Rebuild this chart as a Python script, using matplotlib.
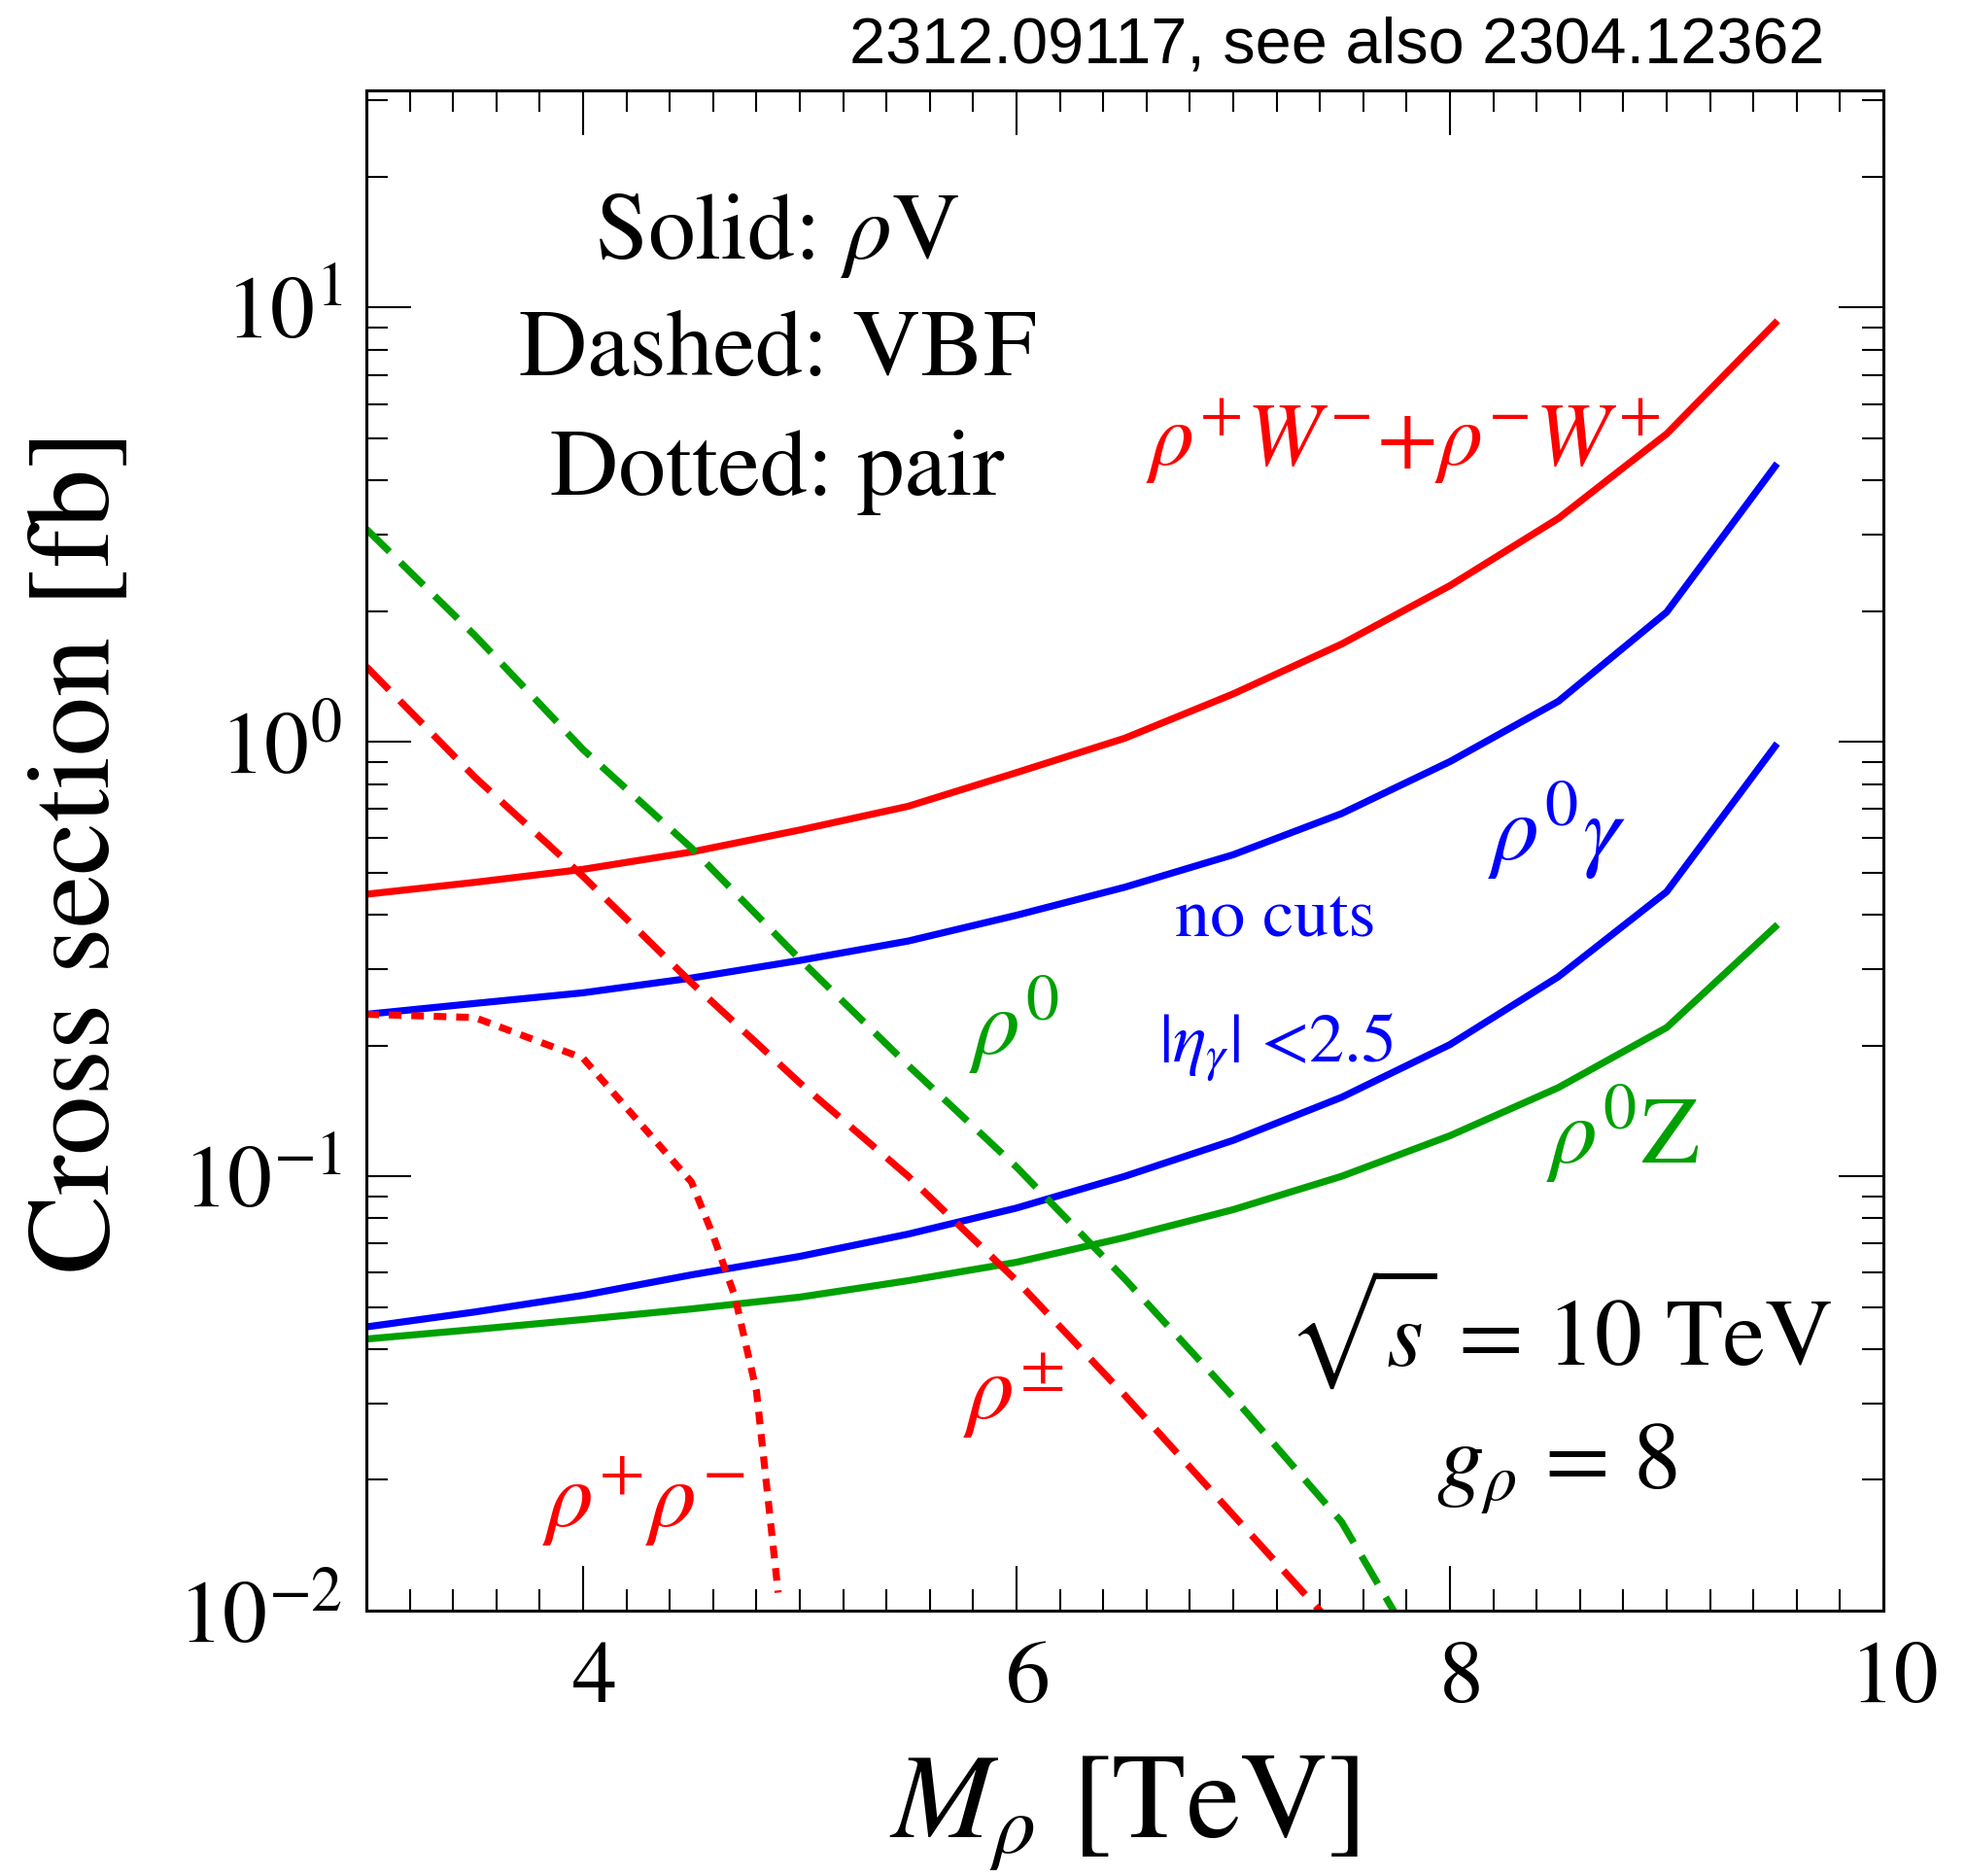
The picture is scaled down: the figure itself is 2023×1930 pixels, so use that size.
import matplotlib
matplotlib.use("Agg")
import matplotlib.pyplot as plt
import matplotlib.transforms as mtransforms
from matplotlib.ticker import MultipleLocator, LogLocator, NullFormatter

plt.rcParams['font.family'] = 'STIXGeneral'
plt.rcParams['mathtext.fontset'] = 'stix'

# M_rho grid for the rho V curves (TeV)
mass = [3.0, 3.5, 4.0, 4.5, 5.0, 5.5, 6.0, 6.5, 7.0, 7.5, 8.0, 8.5, 9.0, 9.5]
# cross sections [fb]
xs_rhoW = [0.446, 0.475, 0.509, 0.558, 0.627, 0.711, 0.85, 1.02, 1.29, 1.68, 2.29, 3.27, 5.12, 9.2]
xs_rho0gam_nocut = [0.236, 0.25, 0.2645, 0.286, 0.314, 0.348, 0.399, 0.463, 0.55, 0.684, 0.901, 1.24, 1.99, 4.31]
xs_rho0gam_cut = [0.045, 0.0487, 0.0532, 0.0593, 0.0654, 0.0736, 0.0845, 0.1, 0.121, 0.152, 0.201, 0.288, 0.452, 0.977]
xs_rho0Z = [0.0422, 0.0444, 0.0468, 0.0495, 0.0527, 0.0575, 0.0634, 0.0723, 0.0838, 0.1, 0.124, 0.16, 0.22, 0.375]

# VBF
mass_vbf0 = [3.0, 3.5, 4.0, 4.5, 5.0, 5.5, 6.0, 6.5, 7.0, 7.5, 8.0]
xs_vbf0 = [3.09, 1.76, 0.96, 0.57, 0.316, 0.18, 0.105, 0.058, 0.031, 0.016, 0.006]
mass_vbfpm = [3.0, 3.5, 4.0, 4.5, 5.0, 5.5, 6.0, 6.5, 7.0, 7.5]
xs_vbfpm = [1.49, 0.83, 0.49, 0.279, 0.164, 0.1, 0.0575, 0.0313, 0.0166, 0.0088]

# pair production
mass_pair = [3.0, 3.5, 4.0, 4.5, 4.6, 4.7, 4.8, 4.9]
xs_pair = [0.236, 0.232, 0.187, 0.097, 0.073, 0.053, 0.032, 0.011]

red = '#ff0000'
blue = '#0000ff'
green = '#00a000'
lw = 2.6

fig = plt.figure(figsize=(10.115, 9.655), dpi=200)
ax = fig.add_axes([0.18636, 0.14138, 0.77163, 0.80995])

ax.plot(mass, xs_rhoW, color=red, lw=lw)
ax.plot(mass, xs_rho0gam_nocut, color=blue, lw=lw)
ax.plot(mass, xs_rho0gam_cut, color=blue, lw=lw)
ax.plot(mass, xs_rho0Z, color=green, lw=lw)
ax.plot(mass_vbf0, xs_vbf0, color=green, lw=lw, dashes=(4.6, 2.2))
ax.plot(mass_vbfpm, xs_vbfpm, color=red, lw=lw, dashes=(4.6, 2.2))
ax.plot(mass_pair, xs_pair, color=red, lw=lw, dashes=(1.8, 1.4))

ax.set_yscale('log')
ax.set_xlim(3, 10)
ax.set_ylim(0.01, 10 ** 1.5)

ax.xaxis.set_major_locator(MultipleLocator(2))
ax.xaxis.set_minor_locator(MultipleLocator(0.2))
ax.yaxis.set_major_locator(LogLocator(base=10))
ax.yaxis.set_minor_locator(LogLocator(base=10, subs=range(2, 10)))
ax.yaxis.set_minor_formatter(NullFormatter())

ax.tick_params(which='both', direction='in', top=True, right=True, width=0.75, labelsize=33)
ax.tick_params(which='major', length=16.5)
ax.tick_params(which='minor', length=8)
ax.tick_params(axis='x', which='major', pad=11)
ax.tick_params(axis='y', which='major', pad=9)
for s in ax.spines.values():
    s.set_linewidth(1.1)

# x tick labels sit slightly right of their ticks in the original
shift = mtransforms.ScaledTranslation(0.06, 0, fig.dpi_scale_trans)
for lab in ax.get_xticklabels():
    lab.set_transform(lab.get_transform() + shift)

fig.text(0.0415, 0.5464, 'Cross section [fb]', rotation=90, ha='center', va='center', fontsize=44)
fig.text(0.572, 0.0212, r'$M_\rho$ [TeV]', ha='center', va='baseline', fontsize=45)
fig.text(0.928, 0.9666, '2312.09117, see also 2304.12362', ha='right', va='baseline',
         fontsize=24, family=['Liberation Sans', 'DejaVu Sans'])

fs = 35
tr = ax.transAxes
ax.text(0.271, 0.8903, r'Solid: $\rho$V', transform=tr, ha='center', va='baseline', fontsize=fs)
ax.text(0.271, 0.8132, 'Dashed: VBF', transform=tr, ha='center', va='baseline', fontsize=fs)
ax.text(0.271, 0.7349, 'Dotted: pair', transform=tr, ha='center', va='baseline', fontsize=fs)

ax.text(0.6835, 0.754, r'$\rho^{+}W^{-}{+}\rho^{-}W^{+}$', transform=tr, ha='center', va='baseline', fontsize=33, color=red)
ax.text(0.785, 0.4944, r'$\rho^{0}\gamma$', transform=tr, ha='center', va='baseline', fontsize=fs, color=blue)
ax.text(0.599, 0.4444, 'no cuts', transform=tr, ha='center', va='baseline', fontsize=26, color=blue)
ax.text(0.600, 0.361, r'$|\eta_\gamma|$ <2.5', transform=tr, ha='center', va='baseline', fontsize=26, color=blue)
ax.text(0.427, 0.3665, r'$\rho^{0}$', transform=tr, ha='center', va='baseline', fontsize=fs, color=green)
ax.text(0.828, 0.295, r'$\rho^{0}$Z', transform=tr, ha='center', va='baseline', fontsize=fs, color=green)
ax.text(0.4267, 0.1266, r'$\rho^{\pm}$', transform=tr, ha='center', va='baseline', fontsize=fs, color=red)
ax.text(0.183, 0.0556, r'$\rho^{+}\rho^{-}$', transform=tr, ha='center', va='baseline', fontsize=fs, color=red)

ax.text(0.7865, 0.162, r'$\sqrt{s}$ = 10 TeV', transform=tr, ha='center', va='baseline', fontsize=fs)
ax.text(0.785, 0.081, r'$g_\rho$ = 8', transform=tr, ha='center', va='baseline', fontsize=fs)

fig.savefig('out.png', dpi=200)
